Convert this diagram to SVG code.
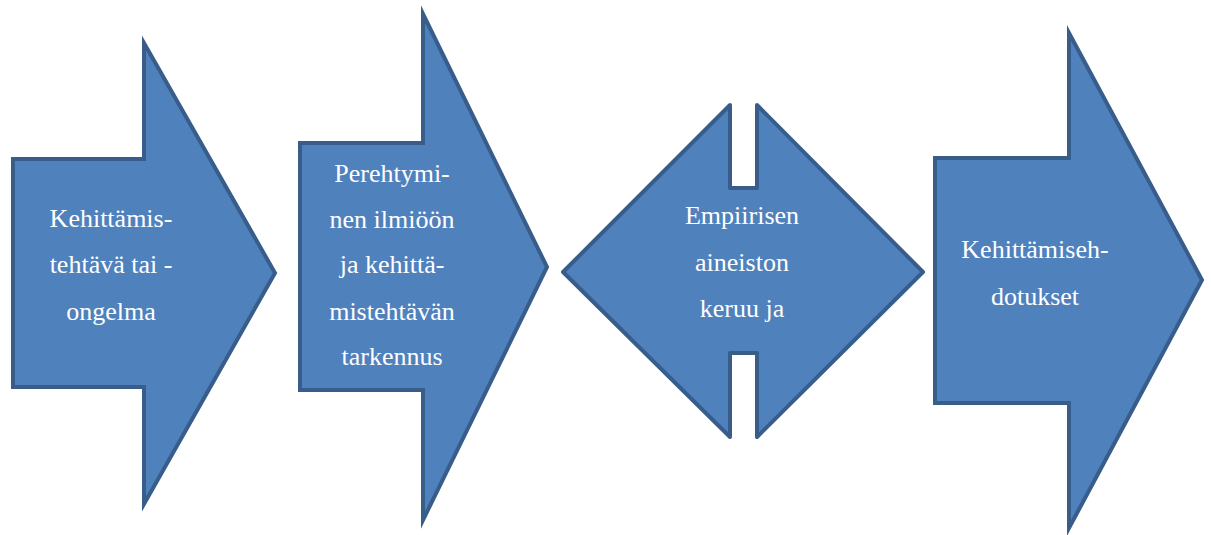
<svg xmlns="http://www.w3.org/2000/svg" width="1211" height="535" viewBox="0 0 1211 535">
<style>
.shape{fill:#4f81bd;stroke:#385d8a;stroke-width:4;stroke-miterlimit:10}
.dia{stroke-linejoin:round}
.lbl{font-family:'Liberation Serif','Times New Roman',Tinos,'DejaVu Serif',serif;font-size:26px;fill:#ffffff;text-anchor:middle}
</style>
<rect width="1211" height="535" fill="#ffffff"/>
<g id="connectors"></g>
<g id="node1">
<path class="shape" d="M13,159 L144,159 L144,43 L275,273 L144,504 L144,387 L13,387 Z"/>
<text class="lbl" x="111" y="227">Kehittämis-</text>
<text class="lbl" x="111" y="273">tehtävä tai -</text>
<text class="lbl" x="111" y="320">ongelma</text>
</g>
<g id="node2">
<path class="shape" d="M300,143 L423,143 L423,14 L547,267 L423,520 L423,390 L300,390 Z"/>
<text class="lbl" x="392" y="182">Perehtymi-</text>
<text class="lbl" x="392" y="228">nen ilmiöön</text>
<text class="lbl" x="392" y="273">ja kehittä-</text>
<text class="lbl" x="392" y="320">mistehtävän</text>
<text class="lbl" x="392" y="365">tarkennus</text>
</g>
<g id="node3">
<path class="shape dia" d="M563,272 L730,105 L730,188 L757,188 L757,105 L923,272 L757,437 L757,353 L730,353 L730,437 Z"/>
<text class="lbl" x="742" y="224">Empiirisen</text>
<text class="lbl" x="742" y="271">aineiston</text>
<text class="lbl" x="742" y="317">keruu ja</text>
</g>
<g id="node4">
<path class="shape" d="M935,158 L1069,158 L1069,33 L1202,280 L1069,528 L1069,403 L935,403 Z"/>
<text class="lbl" x="1035" y="258">Kehittämiseh-</text>
<text class="lbl" x="1035" y="305">dotukset</text>
</g>
</svg>
